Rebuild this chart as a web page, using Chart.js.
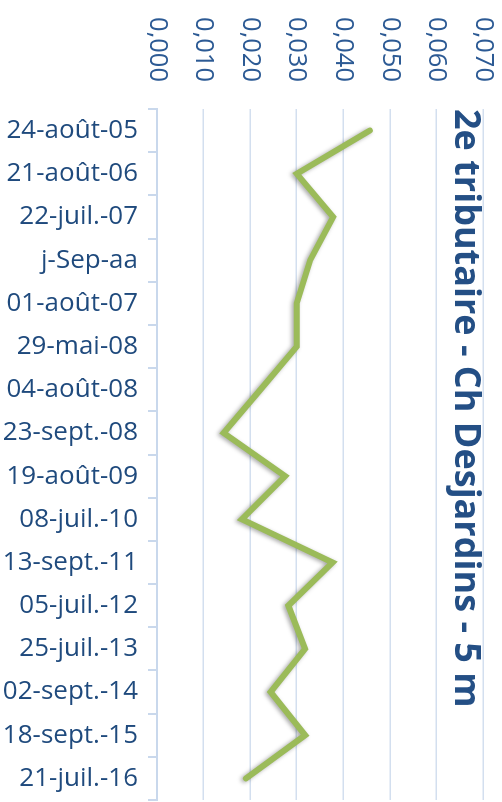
<!DOCTYPE html>
<html>
<head>
  <meta charset="utf-8">
  <script src="https://cdn.jsdelivr.net/npm/chart.js@4"></script>
  <style>
    html, body { margin: 0; padding: 0; width: 502px; height: 802px; overflow: hidden; background: #fff; }
    /* the chart is drawn landscape, then turned a quarter turn clockwise */
    #wrap {
      position: absolute; left: 0; top: 0;
      width: 802px; height: 502px;
      transform-origin: top left;
      transform: translateX(502px) rotate(90deg);
    }
  </style>
</head>
<body>
  <div id="wrap">
    <canvas id="chartCanvas" width="802" height="502"></canvas>
  </div>

  <script>
    // Sample dates (category labels)
    var dates = [
      '24-août-05', '21-août-06', '22-juil.-07', 'j-Sep-aa', '01-août-07',
      '29-mai-08', '04-août-08', '23-sept.-08', '19-août-09', '08-juil.-10',
      '13-sept.-11', '05-juil.-12', '25-juil.-13', '02-sept.-14', '18-sept.-15',
      '21-juil.-16'
    ];

    // Measured values
    var values = [
      0.0457, 0.0300, 0.0378, 0.0329, 0.0300,
      0.0300, 0.0222, 0.0143, 0.0275, 0.0182,
      0.0377, 0.0282, 0.0318, 0.0244, 0.0318,
      0.0191
    ];

    // Value axis
    var axisMin = 0;
    var axisMax = 0.07;
    var axisStep = 0.01;

    var chartTitle = '2e tributaire - Ch Desjardins - 5 m';

    // soft drop shadow under the line, like the office chart
    var lineShadow = {
      id: 'lineShadow',
      beforeDatasetsDraw: function(chart) {
        var ctx = chart.ctx;
        ctx.save();
        ctx.shadowColor = 'rgba(0,0,0,0.35)';
        ctx.shadowBlur = 4;
        ctx.shadowOffsetX = 1;
        ctx.shadowOffsetY = 2;
      },
      afterDatasetsDraw: function(chart) {
        chart.ctx.restore();
      }
    };

    var canvas = document.getElementById('chartCanvas');

    new Chart(canvas, {
      type: 'line',
      data: {
        labels: dates,
        datasets: [{
          data: values,
          borderColor: '#9BBB59',
          borderWidth: 6,
          borderCapStyle: 'round',
          borderJoinStyle: 'miter',
          pointRadius: 0,
          tension: 0,
          fill: false
        }]
      },
      options: {
        responsive: false,
        animation: false,
        layout: {
          padding: { top: 19, right: 2, bottom: 0, left: 0 }
        },
        plugins: {
          legend: { display: false },
          tooltip: { enabled: false },
          title: {
            display: true,
            text: chartTitle,
            align: 'start',
            fullSize: false,
            color: '#244F85',
            font: { family: 'Open Sans', size: 36, weight: 'bold' },
            padding: { top: -4, bottom: -39.2 }
          }
        },
        scales: {
          x: {
            offset: true,
            grid: {
              offset: true,
              drawOnChartArea: false,
              drawTicks: true,
              tickLength: 9,
              color: '#C9D8EC',
              lineWidth: 2
            },
            border: { display: true, color: '#C9D8EC', width: 2 },
            ticks: {
              autoSkip: false,
              minRotation: 90,
              maxRotation: 90,
              padding: 10,
              color: '#1F4A7D',
              font: { family: 'Open Sans', size: 26 }
            },
            afterFit: function(s) {
              s.height = 157;
              s.paddingLeft = 0;
              s.paddingRight = 0;
            }
          },
          y: {
            min: axisMin,
            max: axisMax,
            grid: {
              drawTicks: false,
              color: '#D3DFEF',
              lineWidth: 1.5
            },
            border: { display: false },
            ticks: {
              stepSize: axisStep,
              padding: 27,
              color: '#2C5A94',
              font: { family: 'Open Sans', size: 25.5 },
              callback: function(v) { return v.toFixed(3).replace('.', ','); }
            },
            afterFit: function(s) {
              s.width = 109;
              s.paddingTop = 0;
              s.paddingBottom = 0;
            }
          }
        }
      },
      plugins: [lineShadow]
    });
  </script>
</body>
</html>
